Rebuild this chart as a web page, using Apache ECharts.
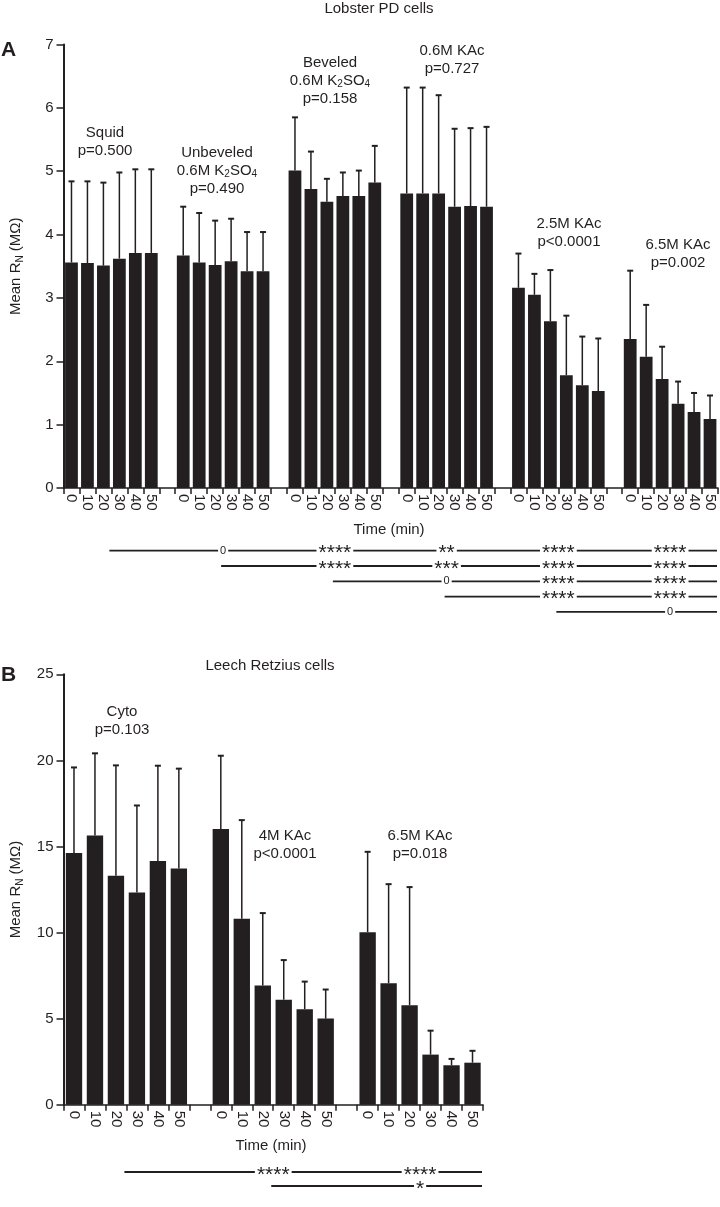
<!DOCTYPE html>
<html><head><meta charset="utf-8">
<script src="https://cdn.jsdelivr.net/npm/echarts@6/dist/echarts.min.js"></script>
<style>html,body{margin:0;padding:0;background:#fff}#c{width:720px;height:1207px}</style>
</head><body><div id="c"></div>
<script>
// ---------- data ----------
const timeLabels = ['0', '10', '20', '30', '40', '50'];

// Panel A: Lobster PD cells (mean and top of error bar, MΩ)
const lobsterGroups = ['Squid', 'Unbeveled', 'Beveled', 'KAc06', 'KAc25', 'KAc65'];
const squidMean      = [3.56, 3.55, 3.51, 3.62, 3.71, 3.71];
const squidUpper     = [4.84, 4.84, 4.82, 4.98, 5.03, 5.03];
const unbevMean      = [3.67, 3.56, 3.52, 3.58, 3.42, 3.42];
const unbevUpper     = [4.44, 4.34, 4.22, 4.25, 4.04, 4.04];
const bevMean        = [5.01, 4.72, 4.52, 4.61, 4.61, 4.82];
const bevUpper       = [5.85, 5.31, 4.88, 4.98, 5.01, 5.40];
const kac06Mean      = [4.65, 4.65, 4.65, 4.44, 4.45, 4.44];
const kac06Upper     = [6.32, 6.32, 6.20, 5.67, 5.68, 5.70];
const kac25Mean      = [3.16, 3.05, 2.63, 1.78, 1.62, 1.53];
const kac25Upper     = [3.70, 3.38, 3.44, 2.72, 2.39, 2.36];
const kac65Mean      = [2.35, 2.07, 1.72, 1.33, 1.20, 1.09];
const kac65Upper     = [3.43, 2.89, 2.23, 1.68, 1.50, 1.46];
const lobsterYTicks  = [0, 7, 1]; // min, max, interval

const lobsterSigStart  = [0, 1, 2, 3, 4];
const lobsterSigLabels = [['0', '****', '**', '****', '****'], ['****', '***', '****', '****'], ['0', '****', '****'], ['****', '****'], ['0']];

// Panel B: Leech Retzius cells
const leechGroups    = ['Cyto', 'KAc4', 'KAc65'];
const cytoMean       = [14.62, 15.64, 13.30, 12.33, 14.15, 13.72];
const cytoUpper      = [19.59, 20.41, 19.71, 17.38, 19.69, 19.52];
const kac4Mean       = [16.01, 10.80, 6.92, 6.10, 5.55, 5.00];
const kac4Upper      = [20.27, 16.53, 11.13, 8.40, 7.15, 6.69];
const leechKac65Mean = [10.02, 7.06, 5.78, 2.91, 2.29, 2.44];
const leechKac65Upper= [14.69, 12.81, 12.64, 4.30, 2.66, 3.13];
const leechYTicks    = [0, 25, 5];

const leechSigStart  = [0, 1];
const leechSigLabels = [['****', '****'], ['*']];

// ---------- build ----------
const INK = '#231f20';
const FONT = '"Liberation Sans", Arial, Helvetica, sans-serif';

function buildCats(groups) {
  const cats = [];
  groups.forEach((g, gi) => {
    if (gi > 0) cats.push('gap' + gi + '|');
    timeLabels.forEach(t => cats.push(g + '|' + t));
  });
  return cats;
}
function buildBars(means) {
  const out = [];
  means.forEach((m, gi) => { if (gi > 0) out.push(null); m.forEach(v => out.push(v)); });
  return out;
}
function buildErr(means, uppers) {
  const out = [];
  let idx = 0;
  means.forEach((m, gi) => {
    if (gi > 0) idx++;
    m.forEach((v, i) => { out.push([idx, v, uppers[gi][i]]); idx++; });
  });
  return out;
}

const catsA = buildCats(lobsterGroups);
const catsB = buildCats(leechGroups);
const meansA = [squidMean, unbevMean, bevMean, kac06Mean, kac25Mean, kac65Mean];
const uppersA = [squidUpper, unbevUpper, bevUpper, kac06Upper, kac25Upper, kac65Upper];
const meansB = [cytoMean, kac4Mean, leechKac65Mean];
const uppersB = [cytoUpper, kac4Upper, leechKac65Upper];

function xAxis(gridIndex, cats) {
  return {
    type: 'category', gridIndex, data: cats,
    axisLine: { lineStyle: { color: INK, width: 1.5 } },
    axisTick: { show: true, interval: 0, length: 6, lineStyle: { color: INK, width: 1.5 } },
    axisLabel: { interval: 0, rotate: -90, margin: 6, fontSize: 15, fontFamily: FONT, color: INK,
      formatter: v => v.split('|')[1] }
  };
}
const yNameRich = {
  a: { fontSize: 15, fontFamily: FONT, color: INK, lineHeight: 20 },
  s: { fontSize: 10, fontFamily: FONT, color: INK, lineHeight: 8, verticalAlign: 'bottom' }
};
function yAxis(gridIndex, ticks) {
  return {
    type: 'value', gridIndex, min: ticks[0], max: ticks[1], interval: ticks[2],
    name: '{a|Mean R}{s|N}{a| (MΩ)}', nameLocation: 'middle', nameGap: 38, nameRotate: 90,
    nameTextStyle: { rich: yNameRich },
    axisLine: { show: true, lineStyle: { color: INK, width: 2 } },
    axisTick: { show: true, length: 7, lineStyle: { color: INK, width: 1.5 } },
    axisLabel: { margin: 10, fontSize: 15, fontFamily: FONT, color: INK },
    splitLine: { show: false }
  };
}
function errSeries(idx, data) {
  return {
    type: 'custom', xAxisIndex: idx, yAxisIndex: idx, data, z: 3, silent: true,
    renderItem(params, api) {
      const x = api.value(0);
      const b = api.coord([x, api.value(1)]);
      const t = api.coord([x, api.value(2)]);
      return { type: 'group', children: [
        { type: 'line', shape: { x1: b[0], y1: b[1], x2: t[0], y2: t[1] }, style: { stroke: INK, lineWidth: 1.5 } },
        { type: 'line', shape: { x1: t[0] - 3, y1: t[1], x2: t[0] + 3, y2: t[1] }, style: { stroke: INK, lineWidth: 2 } }
      ] };
    }
  };
}

const chart = echarts.init(document.getElementById('c'), null, { renderer: 'canvas' });

const option = {
  animation: false,
  backgroundColor: '#fff',
  grid: [
    { left: 57, top: 44.5, width: 661, height: 443.5 },
    { left: 57, top: 674.3, width: 426, height: 430.4 }
  ],
  xAxis: [xAxis(0, catsA), xAxis(1, catsB)],
  yAxis: [yAxis(0, lobsterYTicks), yAxis(1, leechYTicks)],
  series: [
    { type: 'bar', xAxisIndex: 0, yAxisIndex: 0, data: buildBars(meansA), barCategoryGap: '20%', itemStyle: { color: INK }, z: 2 },
    errSeries(0, buildErr(meansA, uppersA)),
    { type: 'bar', xAxisIndex: 1, yAxisIndex: 1, data: buildBars(meansB), barCategoryGap: '22%', itemStyle: { color: INK }, z: 2 },
    errSeries(1, buildErr(meansB, uppersB))
  ]
};
chart.setOption(option);

// ---------- annotations ----------
const txtRich = {
  t: { fontSize: 15, fontFamily: FONT, fill: INK, lineHeight: 18 },
  s: { fontSize: 10, fontFamily: FONT, fill: INK, lineHeight: 8, verticalAlign: 'bottom' }
};
function label(x, y, text, extra) {
  return Object.assign({ type: 'text', x, y, z: 20, silent: true,
    style: { text, rich: txtRich, fill: INK, font: '15px ' + FONT, align: 'center', verticalAlign: 'middle' } }, extra || {});
}
const graphics = [];
graphics.push(label(379, 9, '{t|Lobster PD cells}'));
graphics.push(label(270, 666, '{t|Leech Retzius cells}'));
graphics.push({ type: 'text', x: 1, y: 50, z: 20, style: { text: 'A', font: 'bold 21px ' + FONT, fill: INK, align: 'left', verticalAlign: 'middle' } });
graphics.push({ type: 'text', x: 1, y: 675, z: 20, style: { text: 'B', font: 'bold 21px ' + FONT, fill: INK, align: 'left', verticalAlign: 'middle' } });
graphics.push(label(389, 530, '{t|Time (min)}'));
graphics.push(label(271, 1146, '{t|Time (min)}'));

graphics.push(label(105, 141.5, '{t|Squid}\n{t|p=0.500}'));
graphics.push(label(217, 170.5, '{t|Unbeveled}\n{t|0.6M K}{s|2}{t|SO}{s|4}\n{t|p=0.490}'));
graphics.push(label(330, 80.5, '{t|Beveled}\n{t|0.6M K}{s|2}{t|SO}{s|4}\n{t|p=0.158}'));
graphics.push(label(452, 60, '{t|0.6M KAc}\n{t|p=0.727}'));
graphics.push(label(569, 232.5, '{t|2.5M KAc}\n{t|p<0.0001}'));
graphics.push(label(678, 253.5, '{t|6.5M KAc}\n{t|p=0.002}'));
graphics.push(label(122, 721, '{t|Cyto}\n{t|p=0.103}'));
graphics.push(label(285, 845, '{t|4M KAc}\n{t|p<0.0001}'));
graphics.push(label(420, 845, '{t|6.5M KAc}\n{t|p=0.018}'));

function groupCenter(axisIdx, gi) {
  const a = chart.convertToPixel({ xAxisIndex: axisIdx }, gi * 7 + 2);
  const b = chart.convertToPixel({ xAxisIndex: axisIdx }, gi * 7 + 3);
  return (a + b) / 2;
}
function sigRows(axisIdx, starts, labels, y0, dy, nCats) {
  const p0 = chart.convertToPixel({ xAxisIndex: axisIdx }, 0);
  const p1 = chart.convertToPixel({ xAxisIndex: axisIdx }, 1);
  const end = chart.convertToPixel({ xAxisIndex: axisIdx }, nCats - 1) + (p1 - p0) / 2;
  starts.forEach((s, r) => {
    const y = y0 + r * dy;
    graphics.push({ type: 'line', z: 10, silent: true, shape: { x1: groupCenter(axisIdx, s) - 2, y1: y, x2: end - 1, y2: y },
      style: { stroke: INK, lineWidth: 1.8 } });
    labels[r].forEach((lab, k) => {
      const x = groupCenter(axisIdx, s + 1 + k);
      const isStar = lab.indexOf('*') >= 0;
      graphics.push({ type: 'text', z: 11, silent: true, x, y: isStar ? y + 3 : y,
        style: { text: lab, font: (isStar ? '21px ' : '11px ') + FONT, fill: INK, align: 'center', verticalAlign: 'middle',
          backgroundColor: isStar ? null : '#fff', padding: [0, 2, 0, 2] } });
      if (isStar) {
        // white gap behind stars on the line
        const w = lab.length * 8.2 + 4;
        graphics.push({ type: 'rect', z: 10.5, silent: true, shape: { x: x - w / 2, y: y - 2, width: w, height: 4 }, style: { fill: '#fff' } });
      }
    });
  });
}
sigRows(0, lobsterSigStart, lobsterSigLabels, 550.7, 15.3, catsA.length);
sigRows(1, leechSigStart, leechSigLabels, 1172, 14, catsB.length);

chart.setOption({ graphic: graphics });
</script>
</body></html>
